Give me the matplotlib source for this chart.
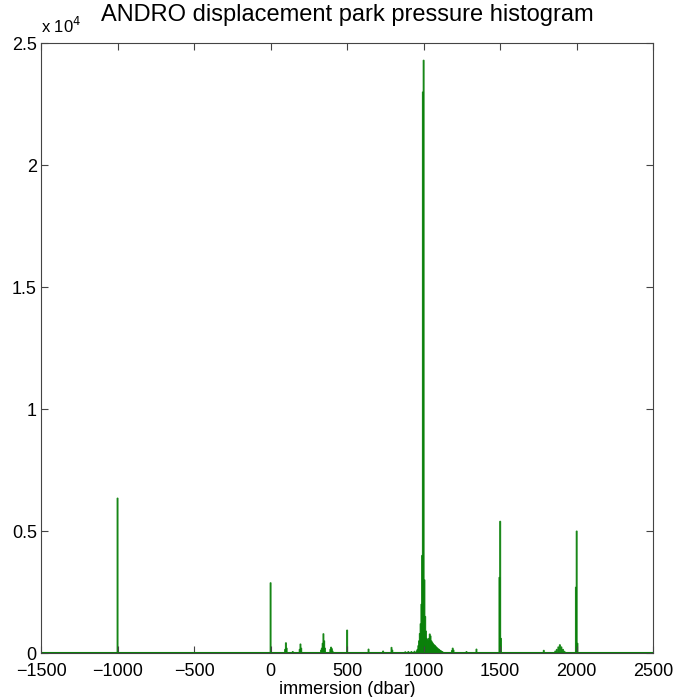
import matplotlib
matplotlib.use('Agg')
import matplotlib.pyplot as plt

plt.rcParams['font.family'] = ['Liberation Sans', 'DejaVu Sans']

# histogram bins (center in dbar, count), only non-empty bins, bin width 5 dbar
bin_width = 5
centers = [-1000, 0,
           95, 100, 105, 145,
           190, 195, 200,
           330, 335, 340, 345, 350, 355,
           390, 395, 400, 405,
           500, 640, 735, 790, 795,
           880, 900, 920, 940, 955,
           960, 965, 970, 975, 980, 985, 990, 995, 1000, 1005,
           1010, 1015, 1020, 1025, 1030, 1035, 1040, 1045, 1050, 1055,
           1060, 1065, 1070, 1075, 1080, 1085, 1090, 1095, 1100, 1105,
           1110, 1115, 1120, 1125,
           1185, 1190, 1195, 1280, 1345,
           1495, 1500, 1505,
           1785, 1860, 1870, 1880, 1890, 1900, 1910, 1920,
           1995, 2000, 2005]
counts = [6350, 2880,
          150, 420, 200, 60,
          150, 370, 200,
          120, 200, 400, 790, 500, 200,
          150, 240, 180, 80,
          940, 160, 80, 230, 120,
          50, 60, 60, 70, 90,
          150, 300, 500, 800, 1200, 2000, 4000, 23000, 24300, 3000,
          1500, 900, 600, 550, 500, 600, 780, 700, 500, 450,
          400, 350, 330, 300, 260, 230, 200, 170, 150, 120,
          100, 80, 60, 40,
          100, 200, 120, 60, 160,
          3100, 5400, 600,
          110, 80, 150, 250, 340, 250, 150, 70,
          2700, 5000, 400]

xticks = [-1500, -1000, -500, 0, 500, 1000, 1500, 2000, 2500]
yticks = [0, 5000, 10000, 15000, 20000, 25000]
ytick_labels = ['0', '0.5', '1', '1.5', '2', '2.5']

fig = plt.figure(figsize=(6.84, 6.97), dpi=100)
ax = fig.add_axes([0.060, 0.063, 0.895, 0.875])

ax.bar(centers, counts, width=bin_width, color='#0a800a', edgecolor='#0a800a',
       linewidth=0.9, alpha=0.85, snap=False)
ax.axhline(0, color='#0a800a', linewidth=1.5)

ax.set_xlim(-1500, 2500)
ax.set_ylim(0, 25000)
ax.set_xticks(xticks)
ax.set_xticklabels([str(t).replace('-', '\u2212') for t in xticks])
ax.set_yticks(yticks)
ax.set_yticklabels(ytick_labels)
ax.tick_params(direction='in', top=True, right=True, length=5, labelsize=13,
               color='#444444')
ax.tick_params(axis='x', pad=7)
ax.tick_params(axis='y', pad=3)
for s in ax.spines.values():
    s.set_color('#444444')
    s.set_linewidth(0.8)

ax.set_xlabel('immersion (dbar)', fontsize=13, labelpad=1)
ax.set_title('ANDRO displacement park pressure histogram', fontsize=17, pad=16)
ax.text(0.0, 1.012, r'x 10$^4$', transform=ax.transAxes, fontsize=12,
        ha='left', va='bottom')

fig.savefig('out.png', dpi=100)
